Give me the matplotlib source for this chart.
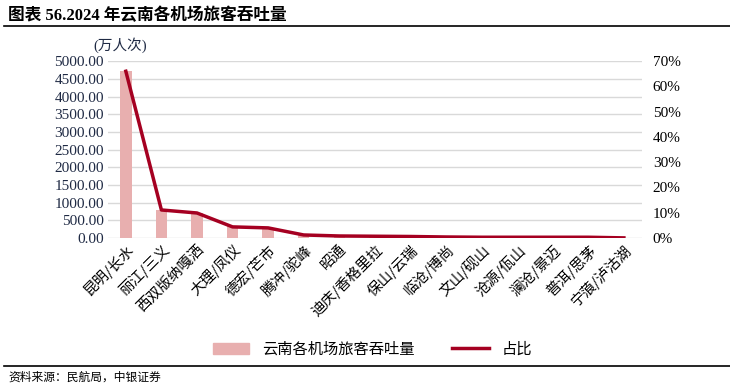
import numpy as np
import matplotlib.pyplot as plt
from matplotlib.lines import Line2D
from matplotlib.patches import Patch

plt.rcParams['font.family'] = ['Liberation Serif', 'Noto Sans CJK SC', 'DejaVu Sans']

airports = ["昆明/长水", "丽江/三义", "西双版纳嘎洒", "大理/凤仪", "德宏/芒市", "腾冲/驼峰",
            "昭通", "迪庆/香格里拉", "保山/云瑞", "临沧/博尚", "文山/砚山", "沧源/佤山",
            "澜沧/景迈", "普洱/思茅", "宁蒗/泸沽湖"]
throughput = [4720, 790, 705, 330, 285, 90, 60, 52, 45, 30, 25, 18, 16, 20, 5]
share = [66.0, 11.1, 9.9, 4.4, 4.0, 1.2, 0.8, 0.7, 0.6, 0.4, 0.3, 0.3, 0.3, 0.3, 0.05]

BAR_COLOR = "#E8AFAF"
LINE_COLOR = "#A50021"
TICK_COLOR = "#1F2A44"

fig = plt.figure(figsize=(7.3, 3.87), dpi=100)
ax = fig.add_axes([0.148, 0.385, 0.731, 0.457])
x = np.arange(len(airports))
ax.bar(x, throughput, width=0.32, color=BAR_COLOR, zorder=2)
ax.set_xlim(-0.5, len(airports) - 0.5)
ax.set_ylim(0, 5000)
ax.set_yticks(np.arange(0, 5001, 500))
ax.set_yticklabels([f"{v:.2f}" for v in np.arange(0, 5001, 500)], fontsize=11, color=TICK_COLOR)
ax.grid(axis="y", color="#D9D9D9", lw=1, zorder=0)
ax.set_xticks(x)
ax.set_xticklabels(airports, rotation=45, ha="right", rotation_mode="anchor",
                   fontsize=10.5, family=['Noto Sans CJK SC'])
ax.tick_params(length=0, pad=3)
for s in ax.spines.values():
    s.set_visible(False)

ax2 = ax.twinx()
ax2.plot(x, share, color=LINE_COLOR, lw=2.5, zorder=3)
ax2.set_ylim(0, 70)
ax2.set_yticks(np.arange(0, 71, 10))
ax2.set_yticklabels([f"{v}%" for v in range(0, 71, 10)], fontsize=11)
ax2.tick_params(length=0, pad=8)
for s in ax2.spines.values():
    s.set_visible(False)

fig.text(0.128, 0.872, "(万人次)", fontsize=10.5, color=TICK_COLOR)

fig.text(0.011, 0.96, "图表 56.2024 年云南各机场旅客吞吐量", fontsize=12, weight="bold", va="center")
fig.add_artist(Line2D([0.005, 1.0], [0.933, 0.933], color="black", lw=1.2))
fig.add_artist(Line2D([0.005, 1.0], [0.055, 0.055], color="black", lw=1.2))
fig.text(0.011, 0.025, "资料来源：民航局，中银证券", fontsize=8.5, style="italic", va="center")

handles = [Patch(color=BAR_COLOR), Line2D([], [], color=LINE_COLOR, lw=2.5)]
fig.legend(handles, ["云南各机场旅客吞吐量", "占比"], loc="center", bbox_to_anchor=(0.51, 0.098),
           ncol=2, frameon=False, handlelength=2.4, columnspacing=2.5,
           prop={'family': ['Noto Sans CJK SC'], 'size': 11})

fig.savefig("out.png", dpi=100)
